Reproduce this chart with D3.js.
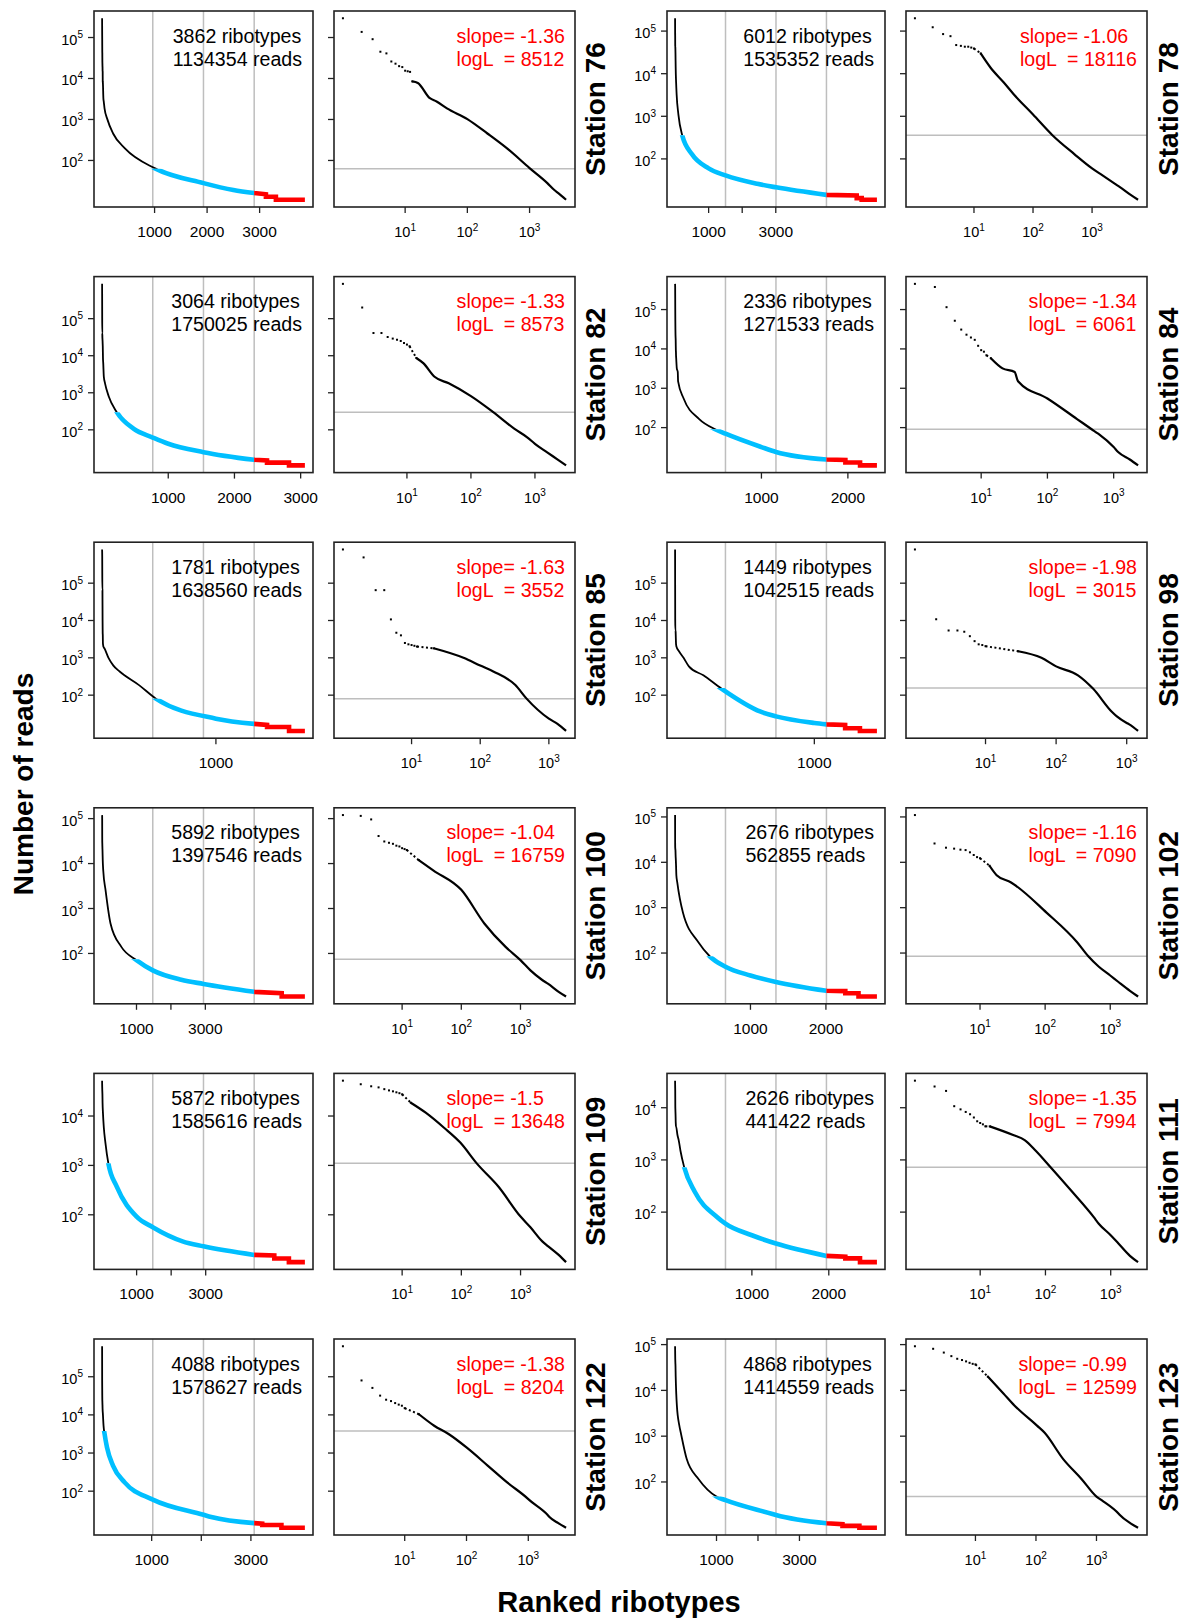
<!DOCTYPE html>
<html><head><meta charset="utf-8">
<script src="https://cdn.jsdelivr.net/npm/d3@7"></script>
<style>
body{margin:0;background:#fff;}
svg text{font-family:"Liberation Sans",Arial,Helvetica,sans-serif;}
</style></head><body>
<svg id="chart" width="1184" height="1621"></svg>
<script>
// ---------------- DATA ----------------
const stationNames = ["Station 76","Station 78","Station 82","Station 84","Station 85","Station 98",
  "Station 100","Station 102","Station 109","Station 111","Station 122","Station 123"];
const ribotypes = [3862,6012,3064,2336,1781,1449,5892,2676,5872,2626,4088,4868];
const totalReads = [1134354,1535352,1750025,1271533,1638560,1042515,1397546,562855,1585616,441422,1578627,1414559];
const slopes = ["-1.36","-1.06","-1.33","-1.34","-1.63","-1.98","-1.04","-1.16","-1.5","-1.35","-1.38","-0.99"];
const logL = ["8512","18116","8573","6061","3552","3015","16759","7090","13648","7994","8204","12599"];
// reads value of the fitted lower bound (grey horizontal line)
const xminReads = [63,360,300,91,80,155,74,85,1100,725,3800,48];
// reads of the most abundant ribotypes (ranks 1..k)
const topReads = [
  [295000,137000,91000,45000,41000,26000,23000,20000,19000,15500,15000,14500],
  [200000,123000,85000,76000,47000,45000,43000,43000,41000,39000],
  [870000,200000,41000,41000,32000,29000,27000,25000,22000,20000,18000],
  [450000,375000,115000,52000,31000,23000,19500,17000,12000,9300,8500,6900],
  [800000,490000,65000,65000,10700,4700,4000,2500,2300,2200,2100,2000],
  [800000,10800,5400,5400,5000,3800,2800,2300,2200,2050],
  [120000,115000,96000,41000,31000,29000,27500,25000,24000,22000,21000,20000],
  [110000,26000,21000,20000,19000,18600,16600,14500,13000,12300],
  [52000,44000,40000,38000,35000,33000,31600,30200,29000,27500],
  [33000,25500,21000,10700,9300,8300,7500,6500,5500,5100,4800,4400],
  [630000,80000,51000,32000,25000,23000,20400,18600,17400,15000],
  [92000,81000,67000,56000,49000,46000,43000,40000,38000,37000]
];
// [rank, reads] read along the rest of each rank-abundance curve
const tailPoints = [
  [[13,8500],[16,7800],[25,3300],[32,2750],[47,1870],[100,1020],[210,455],[440,194],[1000,65],[1931,28],[2500,19],[2896,16],[3120,15],[3120,13],[3310,13],[3310,11],[3862,11]],
  [[13,30000],[19,14000],[32,6200],[47,3300],[100,1100],[213,360],[500,130],[1000,60],[1503,41],[2450,26],[3006,21.5],[4509,14.3],[5410,13.8],[5410,12],[5558,12],[5558,11],[6012,11]],
  [[14,8700],[18,6300],[27,2700],[45,1800],[100,810],[220,305],[480,106],[766,62],[1000,42],[1532,25],[2298,15.5],[2492,15],[2492,13],[2824,13],[2824,11],[3064,11]],
  [[14,5800],[21,3200],[32,2600],[36,1500],[100,550],[280,165],[465,91],[584,70],[1000,32],[1168,24],[1752,15.5],[1971,15],[1971,13],[2141,13],[2141,11],[2336,11]],
  [[21,1800],[57,1000],[100,620],[155,430],[325,186],[470,82],[1000,23.5],[1336,17],[1449,16],[1449,14],[1642,14],[1642,11],[1781,11]],
  [[29,1500],[62,1000],[100,590],[204,340],[333,150],[615,36],[725,27],[1000,18],[1087,16.5],[1221,16],[1221,13],[1327,13],[1327,11],[1449,11]],
  [[19,12000],[34,7000],[100,2600],[245,465],[560,140],[1000,71],[1473,42],[2300,26],[2946,21],[4419,14],[5218,13],[5218,11],[5892,11]],
  [[14,8400],[18,5200],[30,3600],[105,780],[310,173],[460,85],[669,50],[1000,32],[1338,23],[2007,14.7],[2257,14.5],[2257,13],[2432,13],[2432,11],[2676,11]],
  [[14,18600],[25,11700],[51,5800],[96,2900],[182,1100],[425,370],[1000,92],[1468,56],[2330,29],[2936,23],[4404,15.4],[4986,15],[4986,13],[5409,13],[5409,11],[5872,11]],
  [[14,4400],[32,3000],[48,2400],[71,1500],[118,740],[257,245],[550,80],[656,60],[1000,36],[1313,25],[1970,14.5],[2215,14],[2215,13],[2406,13],[2406,11],[2626,11]],
  [[17,10400],[30,5200],[52,3100],[100,1400],[220,470],[455,170],[1000,62],[1022,60],[2044,24],[2200,21],[3066,14.5],[3228,14],[3228,13],[3615,13],[3615,11],[4088,11]],
  [[16,20000],[29,8600],[44,4700],[104,1700],[138,1200],[280,320],[570,115],[1000,48],[1217,40],[2350,20],[2434,19],[3651,12.5],[4037,12],[4037,11],[4445,11],[4445,10],[4868,10]]
];
const rankTicks = [1000,2000,3000];
const logRankTicks = [10,100,1000];
const readTicks = [100,1000,10000,100000];
const quartiles = [0.25,0.5,0.75];
const yTitle = "Number of reads";
const xTitle = "Ranked ribotypes";

// ---------------- LAYOUT ----------------
const colA = [[94,313],[667,885]];
const colB = [[334,575],[906,1147]];
const labelX = [605,1178];
const rowTop0 = 11, rowPitch = 265.6, panelH = 196;
const BLUE = "#00BFFF", RED = "#FF0000", GREY = "#BEBEBE";

const svg = d3.select("#chart");
const defs = svg.append("defs");

function powLabel(g, x, y, exp, anchor, baseSize, supSize){
  const t = g.append("text").attr("x", x).attr("y", y).attr("text-anchor", anchor)
    .attr("font-size", baseSize).attr("fill", "#000");
  t.append("tspan").text("10");
  t.append("tspan").attr("dy", -6.5).attr("font-size", supSize).text(exp);
  return t;
}

function legend(g, right, top, lines, color){
  const ts = lines.map((s,i) => g.append("text")
    .attr("y", top + 31.5 + i*23).attr("font-size", 19.6).attr("fill", color)
    .attr("xml:space","preserve").style("white-space","pre").text(s));
  const w = d3.max(ts, t => t.node().getComputedTextLength());
  ts.forEach(t => t.attr("x", right - w));
}

stationNames.forEach((name, s) => {
  const row = Math.floor(s/2), col = s%2;
  const [ax0, ax1] = colA[col];
  const [bx0, bx1] = colB[col];
  const y0 = rowTop0 + rowPitch*row, y1 = y0 + panelH;
  const n = ribotypes[s];
  const pts = topReads[s].map((v,i) => [i+1, v]).concat(tailPoints[s]);
  // split: smooth part (distinct ranks) and the stepped low-abundance end
  let j = pts.findIndex((d,i) => i < pts.length-1 && pts[i+1][0] === d[0]);
  if (j < 0) j = pts.length;
  const smoothPts = pts.slice(0, j);
  const stepPts = pts.slice(j-1);

  const ext = d3.extent(pts, d => d[1]);
  const lmin = Math.log10(ext[0]), lmax = Math.log10(ext[1]);
  const padY = (lmax - lmin)*0.04;
  const y = d3.scaleLog().domain([10**(lmin-padY), 10**(lmax+padY)]).range([y1, y0]);
  const padX = (n-1)*0.04;
  const xa = d3.scaleLinear().domain([1-padX, n+padX]).range([ax0, ax1]);
  const L = Math.log10(n);
  const xb = d3.scaleLog().domain([10**(-0.04*L), 10**(1.04*L)]).range([bx0, bx1]);

  const g = svg.append("g");

  // ---------- left panel ----------
  quartiles.forEach(q => {
    g.append("line").attr("x1", xa(q*n)).attr("x2", xa(q*n)).attr("y1", y0).attr("y2", y1)
      .attr("stroke", GREY).attr("stroke-width", 1.5);
  });
  const yx = y(xminReads[s]);
  const xq = xa(0.75*n);
  const clips = {
    k: [ax0, y0, ax1-ax0, yx-y0],
    b: [ax0, yx, xq-ax0, y1-yx],
    r: [xq, y0, ax1-xq, y1-y0]
  };
  Object.entries(clips).forEach(([k, r]) => {
    defs.append("clipPath").attr("id", `c${s}${k}`).append("rect")
      .attr("x", r[0]).attr("y", r[1]).attr("width", Math.max(0,r[2])).attr("height", Math.max(0,r[3]));
  });
  const lineAS = d3.line().curve(d3.curveMonotoneX).x(d => xa(d[0])).y(d => y(d[1]));
  const lineAL = d3.line().x(d => xa(d[0])).y(d => y(d[1]));
  const dA = lineAS(smoothPts) + (stepPts.length > 1 ? lineAL(stepPts).replace(/^M/, "L") : "");
  g.append("path").attr("d", dA).attr("fill","none").attr("stroke","#000")
    .attr("stroke-width",1.8).attr("clip-path",`url(#c${s}k)`);
  g.append("path").attr("d", dA).attr("fill","none").attr("stroke",BLUE)
    .attr("stroke-width",4.6).attr("clip-path",`url(#c${s}b)`);
  g.append("path").attr("d", dA).attr("fill","none").attr("stroke",RED)
    .attr("stroke-width",4.6).attr("clip-path",`url(#c${s}r)`);
  g.append("rect").attr("x", ax0).attr("y", y0).attr("width", ax1-ax0).attr("height", panelH)
    .attr("fill","none").attr("stroke","#222").attr("stroke-width",1.6);

  // x axis (ranks)
  let lastX = -1e9;
  rankTicks.filter(t => t >= xa.domain()[0] && t <= xa.domain()[1]).forEach(t => {
    const x = xa(t);
    g.append("line").attr("x1",x).attr("x2",x).attr("y1",y1).attr("y2",y1+6)
      .attr("stroke","#222").attr("stroke-width",1.3);
    if (x - lastX >= 51) {
      g.append("text").attr("x", x).attr("y", y1+30).attr("text-anchor","middle")
        .attr("font-size",15.5).text(d3.format("d")(t));
      lastX = x;
    }
  });
  // y axis
  readTicks.filter(t => t >= y.domain()[0] && t <= y.domain()[1]).forEach(t => {
    const yy = y(t);
    g.append("line").attr("x1",ax0-6).attr("x2",ax0).attr("y1",yy).attr("y2",yy)
      .attr("stroke","#222").attr("stroke-width",1.3);
    powLabel(g, ax0-11, yy+7, String(Math.round(Math.log10(t))), "end", 14.5, 10);
    g.append("line").attr("x1",bx0-6).attr("x2",bx0).attr("y1",yy).attr("y2",yy)
      .attr("stroke","#222").attr("stroke-width",1.3);
  });
  legend(g, ax1-11, y0, [`${ribotypes[s]} ribotypes`, `${totalReads[s]} reads`], "#000");

  // ---------- right panel ----------
  g.append("line").attr("x1",bx0).attr("x2",bx1).attr("y1",yx).attr("y2",yx)
    .attr("stroke",GREY).attr("stroke-width",1.5);
  const k = topReads[s].length;
  g.selectAll(null).data(pts.slice(0,k+1)).enter().append("rect")
    .attr("x", d => xb(d[0]) - 1).attr("y", d => y(d[1]) - 1)
    .attr("width",2).attr("height",2).attr("fill","#000");
  // sparse stretch between last listed top rank and first tail point: dotted unless it is a sharp jump
  const a = pts[k-1], b = pts[k];
  const steep = Math.abs(y(b[1]) - y(a[1])) / Math.max(1e-6, xb(b[0]) - xb(a[0]));
  if (steep <= 3) {
    g.append("line").attr("x1", xb(a[0])).attr("y1", y(a[1])).attr("x2", xb(b[0])).attr("y2", y(b[1]))
      .attr("stroke","#000").attr("stroke-width",2).attr("stroke-dasharray","2,2.5");
  }
  const lineB = d3.line().curve(d3.curveMonotoneX).x(d => xb(d[0])).y(d => y(d[1]));
  const tailB = smoothPts.slice(k).concat([pts[pts.length-1]]);
  g.append("path").attr("d", lineB(tailB)).attr("fill","none")
    .attr("stroke","#000").attr("stroke-width",2.2);
  g.append("rect").attr("x", bx0).attr("y", y0).attr("width", bx1-bx0).attr("height", panelH)
    .attr("fill","none").attr("stroke","#222").attr("stroke-width",1.6);
  logRankTicks.forEach(t => {
    const x = xb(t);
    g.append("line").attr("x1",x).attr("x2",x).attr("y1",y1).attr("y2",y1+6)
      .attr("stroke","#222").attr("stroke-width",1.3);
    powLabel(g, x, y1+30, String(Math.round(Math.log10(t))), "middle", 14.5, 10);
  });
  legend(g, bx1-10, y0, [`slope= ${slopes[s]}`, `logL  = ${logL[s]}`], RED);

  // station label
  svg.append("text").attr("transform", `translate(${labelX[col]},${y0 + panelH/2}) rotate(-90)`)
    .attr("text-anchor","middle").attr("font-size",28).attr("font-weight","bold").text(name);
});

svg.append("text").attr("transform","translate(33,784) rotate(-90)")
  .attr("text-anchor","middle").attr("font-size",28).attr("font-weight","bold").text(yTitle);
svg.append("text").attr("x",619).attr("y",1612).attr("text-anchor","middle")
  .attr("font-size",29).attr("font-weight","bold").text(xTitle);
</script>
</body></html>
